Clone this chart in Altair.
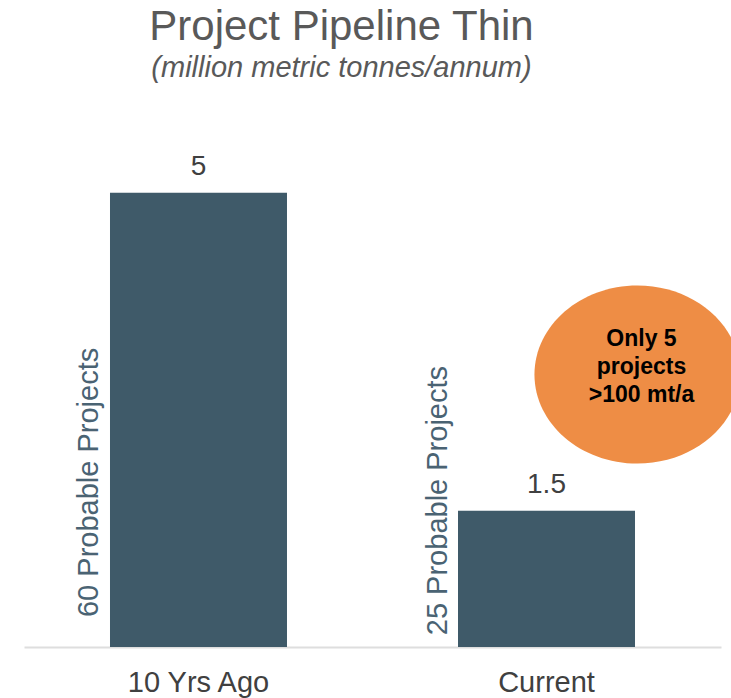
import altair as alt
import pandas as pd

# Pipeline capacity, million metric tonnes per annum
periods = ["10 Yrs Ago", "Current"]
capacity = [5, 1.5]
project_notes = ["60 Probable Projects", "25 Probable Projects"]

callout_text = "Only 5\nprojects\n>100 mt/a"
callout_level = 3.0

FONT = "Liberation Sans"
BAR_COLOR = "#3F5A69"
NOTE_COLOR = "#4A6373"
TEXT_GRAY = "#404040"
TITLE_GRAY = "#595959"
ORANGE = "#EE8D45"

df = pd.DataFrame({"period": periods, "capacity": capacity, "note": project_notes})

x_enc = alt.X(
    "period:N",
    sort=periods,
    title=None,
    scale=alt.Scale(paddingInner=0.4914, paddingOuter=0.2471, align=0.5),
    axis=alt.Axis(
        labelAngle=0,
        labelFontSize=29,
        labelFont=FONT,
        labelColor=TEXT_GRAY,
        labelPadding=21,
        ticks=False,
        domainColor="#DEDEDE",
        domainWidth=2,
        grid=False,
    ),
)
y_scale = alt.Scale(domain=[0, 6], nice=False)

base = alt.Chart(df)

bars = base.mark_bar(color=BAR_COLOR).encode(
    x=x_enc,
    y=alt.Y("capacity:Q", scale=y_scale, axis=None),
)

values = base.mark_text(
    font=FONT, fontSize=28, color=TEXT_GRAY, baseline="alphabetic", dy=-18
).encode(
    x=alt.X("period:N", sort=periods),
    y=alt.Y("capacity:Q", scale=y_scale),
    text=alt.Text("capacity:Q", format="~g"),
)

# Vertical project-count notes beside each bar (rotated frame: dy moves left/right)
note_layers = []
for period, start in zip(periods, [0.33, 0.13]):
    note_layers.append(
        base.transform_filter(alt.datum.period == period)
        .mark_text(
            font=FONT,
            fontSize=29,
            color=NOTE_COLOR,
            angle=270,
            align="left",
            baseline="alphabetic",
            dy=-100,
        )
        .encode(
            x=alt.X("period:N", sort=periods),
            y=alt.datum(start, scale=y_scale),
            text="note:N",
        )
    )

callout_df = pd.DataFrame({"period": ["Current"], "level": [callout_level], "label": [callout_text]})
callout = alt.Chart(callout_df)

# Ellipse outline in symbol units, shifted right of the "Current" band centre
ellipse_path = "M -0.117 0 A 1 0.865 0 1 1 1.883 0 A 1 0.865 0 1 1 -0.117 0 Z"
bubble = callout.mark_point(
    shape=ellipse_path, filled=True, color=ORANGE, opacity=1, size=42436
).encode(
    x=alt.X("period:N", sort=periods),
    y=alt.Y("level:Q", scale=y_scale),
)

bubble_text = callout.mark_text(
    font=FONT,
    fontSize=23,
    fontWeight="bold",
    color="#000000",
    lineBreak="\n",
    lineHeight=28,
    baseline="middle",
    dx=95,
    dy=-36,
).encode(
    x=alt.X("period:N", sort=periods),
    y=alt.Y("level:Q", scale=y_scale),
    text="label:N",
)

chart = (
    alt.layer(bars, values, *note_layers, bubble, bubble_text)
    .properties(
        width=697,
        height=545,
        title=alt.TitleParams(
            text="Project Pipeline Thin",
            subtitle="(million metric tonnes/annum)",
            anchor="middle",
            dx=-31,
            offset=18,
            font=FONT,
            fontSize=42,
            fontWeight="normal",
            color=TITLE_GRAY,
            subtitleFont=FONT,
            subtitleFontSize=29,
            subtitleFontStyle="italic",
            subtitleColor=TITLE_GRAY,
            subtitlePadding=5,
        ),
        autosize=alt.AutoSizeParams(type="none"),
        padding={"left": 24, "top": 102, "right": 10, "bottom": 51},
    )
    .configure(background="white")
    .configure_view(strokeWidth=0)
)

chart.save("out.html", embed_options={"renderer": "svg", "actions": False})
